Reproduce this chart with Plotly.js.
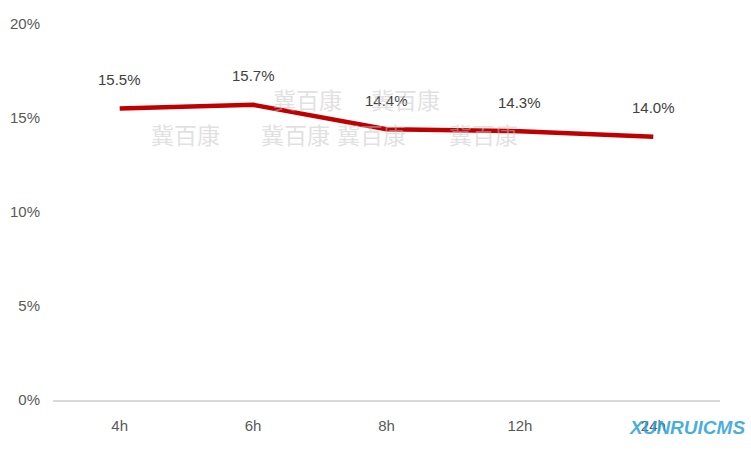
<!DOCTYPE html>
<html><head><meta charset="utf-8">
<script src="https://cdn.plot.ly/plotly-3.0.1.min.js"></script>
<style>html,body{margin:0;padding:0;background:#fff}#c{width:751px;height:451px}</style>
</head><body><div id="c"></div>
<script>
const categories = ['4h','6h','8h','12h','24h'];
const values = [15.5, 15.7, 14.4, 14.3, 14.0];
const labels = ['15.5%','15.7%','14.4%','14.3%','14.0%'];
const yTicks = [0,5,10,15,20];
const yTickText = ['0%','5%','10%','15%','20%'];

const FONT = 'Liberation Sans, Arial, sans-serif';
const anns = categories.map((c,i)=>({x:c,y:values[i],xref:'x',yref:'y',text:labels[i],showarrow:false,yshift:29,font:{family:FONT,size:15,color:'#404040'}}));
const wm = [[0.382,0.80],[0.529,0.80],[0.198,0.707],[0.363,0.707],[0.477,0.707],[0.646,0.707]];
wm.forEach(p=>anns.push({xref:'paper',yref:'paper',x:p[0],y:p[1],xanchor:'center',yanchor:'middle',text:'冀百康',showarrow:false,font:{family:'Noto Sans CJK SC',size:23,color:'rgba(195,195,195,0.5)'}}));
anns.push({xref:'paper',yref:'paper',x:1.04,y:-0.072,xanchor:'right',yanchor:'middle',text:'<b><i>XUNRUICMS</i></b>',showarrow:false,font:{family:'Liberation Sans, Arial',size:19,color:'rgba(40,160,215,0.85)'}});

Plotly.newPlot('c',[{
  x:categories,y:values,type:'scatter',mode:'lines',
  line:{color:'#C00000',width:4.5},hoverinfo:'none'
}],{
  width:751,height:451,
  margin:{l:53,r:31,t:24,b:51},
  paper_bgcolor:'#fff',plot_bgcolor:'#fff',
  showlegend:false,
  xaxis:{type:'category',range:[-0.5,4.5],showgrid:false,zeroline:false,showline:true,linecolor:'#d9d9d9',linewidth:1.5,ticks:'',ticklabelstandoff:11,tickfont:{family:FONT,size:15,color:'#595959'}},
  yaxis:{range:[0,20],tickvals:yTicks,ticktext:yTickText,showgrid:false,zeroline:false,showline:false,ticks:'',ticklabelstandoff:12,tickfont:{family:FONT,size:15,color:'#595959'}},
  annotations:anns
},{staticPlot:true,displayModeBar:false});
</script></body></html>
